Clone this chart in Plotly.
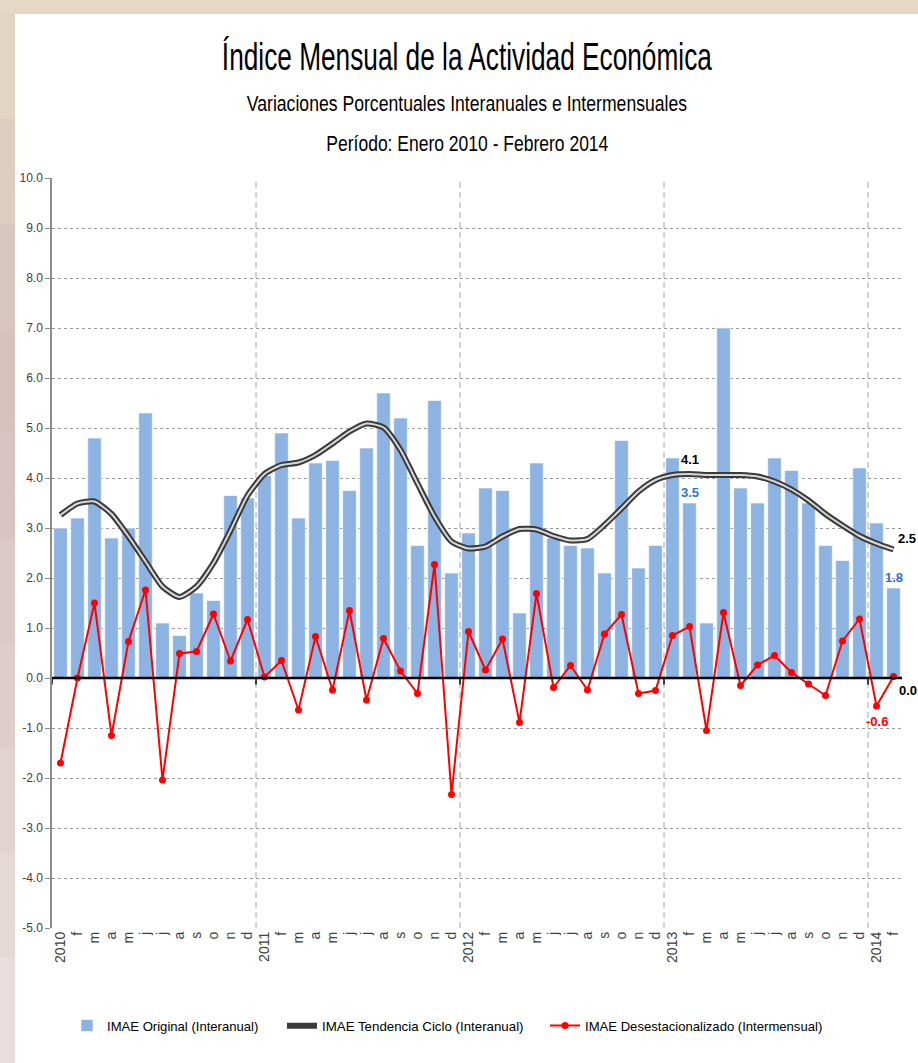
import plotly.graph_objects as go

# ---------------- data ----------------
years = ["2010", "2011", "2012", "2013", "2014"]
month_letters = ["e", "f", "m", "a", "m", "j", "j", "a", "s", "o", "n", "d"]

imae_original = [
    3.0, 3.2, 4.8, 2.8, 3.0, 5.3, 1.1, 0.85, 1.7, 1.55, 3.65, 3.6,
    4.05, 4.9, 3.2, 4.3, 4.35, 3.75, 4.6, 5.7, 5.2, 2.65, 5.55, 2.1,
    2.9, 3.8, 3.75, 1.3, 4.3, 2.8, 2.65, 2.6, 2.1, 4.75, 2.2, 2.65,
    4.4, 3.5, 1.1, 7.0, 3.8, 3.5, 4.4, 4.15, 3.5, 2.65, 2.35, 4.2,
    3.1, 1.8,
]
imae_tendencia = [
    3.26, 3.49, 3.53, 3.28, 2.83, 2.33, 1.83, 1.62, 1.83, 2.30, 2.95, 3.65,
    4.08, 4.26, 4.31, 4.46, 4.69, 4.93, 5.09, 5.01, 4.56, 3.89, 3.23, 2.73,
    2.59, 2.63, 2.83, 2.98, 2.97, 2.84, 2.75, 2.78, 3.06, 3.39, 3.73, 3.96,
    4.06, 4.08, 4.06, 4.06, 4.06, 4.03, 3.93, 3.77, 3.55, 3.28, 3.05, 2.84,
    2.69, 2.57,
]
imae_desest = [
    -1.70, 0.00, 1.50, -1.15, 0.73, 1.76, -2.04, 0.49, 0.53, 1.28, 0.34, 1.17,
    0.02, 0.35, -0.64, 0.83, -0.24, 1.35, -0.44, 0.79, 0.14, -0.31, 2.27, -2.33,
    0.93, 0.16, 0.78, -0.89, 1.69, -0.19, 0.25, -0.24, 0.88, 1.27, -0.31, -0.25,
    0.85, 1.03, -1.05, 1.31, -0.15, 0.26, 0.45, 0.11, -0.12, -0.35, 0.74, 1.18,
    -0.56, 0.03,
]
y_ticks = [10, 9, 8, 7, 6, 5, 4, 3, 2, 1, 0, -1, -2, -3, -4, -5]

title_main = "Índice Mensual de la Actividad Económica"
title_sub1 = "Variaciones Porcentuales Interanuales e Intermensuales"
title_sub2 = "Período: Enero 2010 - Febrero 2014"

n = len(imae_original)
xs = list(range(n))
tick_text = []
for i in xs:
    m = i % 12
    tick_text.append(years[i // 12] if m == 0 else month_letters[m])

# ---------------- figure ----------------
W, H = 918, 1063
L, R, T, B = 52, 16, 178, 135
PW = W - L - R
PH = H - T - B

def px_x(p):
    return (p - L) / PW

def px_y(p):
    return (H - B - p) / PH

SANS = "Liberation Sans, Arial, sans-serif"

fig = go.Figure()

fig.add_trace(go.Bar(
    x=xs, y=imae_original, name="IMAE Original (Interanual)",
    marker=dict(color="#8db3e2", line=dict(color="#ffffff", width=0.6)),
    legend="legend",
))
fig.add_trace(go.Scatter(
    x=xs, y=imae_tendencia, mode="lines", name="IMAE Tendencia Ciclo (Interanual)",
    line=dict(color="#3a3a3a", width=6, shape="spline", smoothing=0.6),
    legend="legend2",
))
fig.add_trace(go.Scatter(
    x=xs, y=imae_tendencia, mode="lines", showlegend=False,
    line=dict(color="#d8d8d8", width=2, shape="spline", smoothing=0.6),
    hoverinfo="skip",
))
fig.add_trace(go.Scatter(
    x=xs, y=imae_desest, mode="lines+markers", name="IMAE Desestacionalizado (Intermensual)",
    line=dict(color="#ff0000", width=2),
    marker=dict(color="#ff0000", size=7),
    legend="legend3",
))

shapes = []
# beige frame (top band and left gradient strip)
shapes.append(dict(type="rect", xref="paper", yref="paper",
                   x0=px_x(0), x1=px_x(W), y0=px_y(14), y1=px_y(0),
                   fillcolor="#e4d9c4", line=dict(width=0), layer="below"))
grad = ["#e2d6c2", "#ddcdc0", "#d9c6c0", "#d8c2c0", "#d9c3c2",
        "#dcc8c7", "#dfcdcc", "#e2d3d2", "#e5d9d8", "#e8dedd"]
seg = (H - 14) / len(grad)
for k, c in enumerate(grad):
    shapes.append(dict(type="rect", xref="paper", yref="paper",
                       x0=px_x(0), x1=px_x(15),
                       y0=px_y(14 + (k + 1) * seg + 0.5), y1=px_y(14 + k * seg),
                       fillcolor=c, line=dict(width=0), layer="below"))
# year separator dashed lines
for yb in range(1, 5):
    xb = yb * 12 - 0.5
    shapes.append(dict(type="line", xref="x", yref="y", x0=xb, x1=xb, y0=-5, y1=10,
                       line=dict(color="#a8a8a8", width=1, dash="6px,4px"), layer="below"))
# tick marks on zero line at year boundaries
for yb in range(0, 5):
    xb = yb * 12 - 0.5
    shapes.append(dict(type="line", xref="x", yref="y", x0=xb, x1=xb, y0=0, y1=-0.13,
                       line=dict(color="#000000", width=1.5), layer="above"))
# zero line
shapes.append(dict(type="line", xref="paper", yref="y", x0=0, x1=1, y0=0, y1=0,
                   line=dict(color="#000000", width=2.5), layer="above"))
fig.update_layout(shapes=shapes)

annotations = [
    dict(text=title_main, xref="paper", yref="paper",
         x=px_x(467), y=px_y(57), showarrow=False, xanchor="center", yanchor="middle",
         font=dict(family=SANS, size=38, color="#000000")),
    dict(text=title_sub1, xref="paper", yref="paper",
         x=px_x(467), y=px_y(104), showarrow=False, xanchor="center", yanchor="middle",
         font=dict(family=SANS, size=22, color="#000000")),
    dict(text=title_sub2, xref="paper", yref="paper",
         x=px_x(467), y=px_y(143), showarrow=False, xanchor="center", yanchor="middle",
         font=dict(family=SANS, size=22, color="#000000")),
    # data labels
    dict(text="<b>4.1</b>", x=37, y=imae_tendencia[37], xref="x", yref="y", showarrow=False,
         xanchor="center", yanchor="bottom", yshift=5,
         font=dict(family=SANS, size=13, color="#000000")),
    dict(text="<b>3.5</b>", x=37, y=imae_original[37], xref="x", yref="y", showarrow=False,
         xanchor="center", yanchor="bottom", yshift=1,
         font=dict(family=SANS, size=13, color="#2e75d0")),
    dict(text="<b>2.5</b>", x=49, y=imae_tendencia[49], xref="x", yref="y", showarrow=False,
         xanchor="left", yanchor="bottom", xshift=2, yshift=2,
         font=dict(family=SANS, size=13, color="#000000")),
    dict(text="<b>1.8</b>", x=49, y=imae_original[49], xref="x", yref="y", showarrow=False,
         xanchor="center", yanchor="bottom", yshift=1,
         font=dict(family=SANS, size=13, color="#2e75d0")),
    dict(text="<b>0.0</b>", x=49, y=imae_desest[49], xref="x", yref="y", showarrow=False,
         xanchor="left", yanchor="top", xshift=3, yshift=-4,
         font=dict(family=SANS, size=13, color="#000000")),
    dict(text="<b>-0.6</b>", x=48, y=imae_desest[48], xref="x", yref="y", showarrow=False,
         xanchor="center", yanchor="top", yshift=-6,
         font=dict(family=SANS, size=13, color="#ff0000")),
]
fig.update_layout(annotations=annotations)

legend_common = dict(orientation="h", yanchor="middle", xanchor="left",
                     bgcolor="rgba(0,0,0,0)", itemwidth=30)
fig.update_layout(
    width=W, height=H,
    margin=dict(l=L, r=R, t=T, b=B, autoexpand=False),
    paper_bgcolor="#ffffff",
    plot_bgcolor="#ffffff",
    barmode="overlay",
    bargap=0.2,
    showlegend=True,
    legend=dict(x=px_x(67), y=px_y(1026),
                font=dict(family=SANS, size=13.1, color="#000000"), **legend_common),
    legend2=dict(x=px_x(282), y=px_y(1026),
                 font=dict(family=SANS, size=13.3, color="#000000"), **legend_common),
    legend3=dict(x=px_x(545), y=px_y(1026),
                 font=dict(family=SANS, size=13.1, color="#000000"), **legend_common),
    xaxis=dict(
        range=[-0.5, n - 0.5],
        tickmode="array", tickvals=xs, ticktext=tick_text,
        tickangle=-90,
        tickfont=dict(family=SANS, size=14, color="#404040"),
        showgrid=False, zeroline=False, showline=False,
        ticks="", fixedrange=True,
    ),
    yaxis=dict(
        range=[-5, 10],
        tickmode="array", tickvals=y_ticks,
        ticktext=[f"{v:.1f}" for v in y_ticks],
        tickfont=dict(family=SANS, size=12, color="#404040"),
        showgrid=True, gridcolor="#9a9a9a", gridwidth=1, griddash="3px,3px",
        zeroline=False,
        showline=True, linecolor="#8c8c8c", linewidth=1.5,
        ticks="outside", ticklen=5, tickcolor="#8c8c8c",
        fixedrange=True,
    ),
)

# page setup: no body margin, and condensed look for the title lines
post_js = """
document.body.style.margin = '0px';
function squeezeText(sel, targets) {
  document.querySelectorAll(sel).forEach(function (t) {
    var txt = t.textContent || '';
    var w = null;
    for (var i = 0; i < targets.length; i++) {
      if (txt.indexOf(targets[i][0]) !== -1) { w = targets[i][1]; break; }
    }
    if (!w) return;
    var len = t.getComputedTextLength();
    if (!len) return;
    var s = w / len;
    var x = parseFloat(t.getAttribute('x')) || 0;
    t.setAttribute('transform', 'translate(' + x + ',0) scale(' + s + ',1) translate(' + (-x) + ',0)');
  });
}
function squeezeAll() {
  squeezeText('text.annotation-text', [['Mensual de la', 490], ['Variaciones', 440], ['Enero 2010', 282]]);
}
squeezeAll();
setTimeout(squeezeAll, 30);
setTimeout(squeezeAll, 200);
"""

fig.write_html("out.html", post_script=post_js, config={"displayModeBar": False})
